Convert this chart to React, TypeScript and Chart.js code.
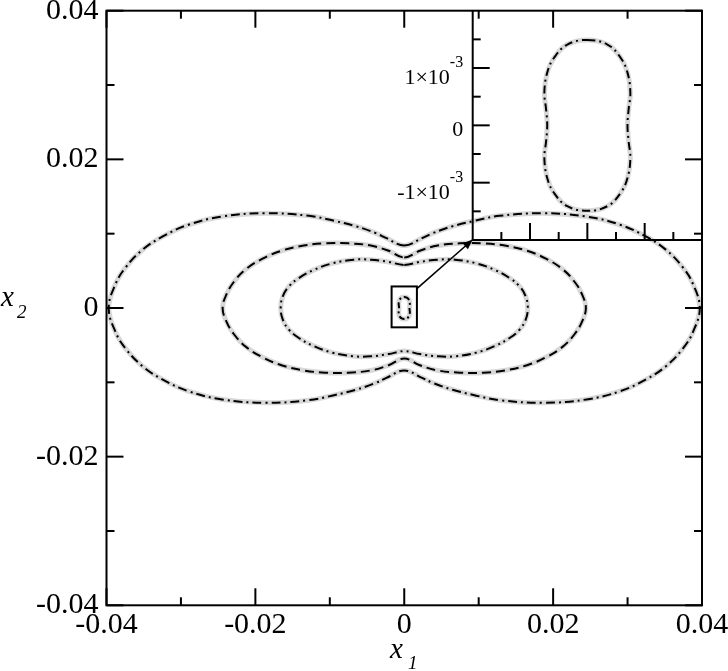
import React, { useEffect, useRef } from 'react';
import { Chart, registerables } from 'chart.js';
Chart.register(...registerables);

// ---- data (first quadrant of each symmetric closed curve) ----
const outerX = [0, 0.0024, 0.0039, 0.0065, 0.0093, 0.0128, 0.0187, 0.0245, 0.029, 0.0325, 0.0352, 0.0374, 0.0388, 0.0397];
const outerY = [0.0084, 0.0094, 0.0101, 0.011, 0.0117, 0.0124, 0.01275, 0.0123, 0.0112, 0.0096, 0.0078, 0.0055, 0.0032, 0];
const middleX = [0, 0.0021, 0.0045, 0.0075, 0.0106, 0.0135, 0.0165, 0.0191, 0.0213, 0.0229, 0.0239, 0.0244];
const middleY = [0.0068, 0.0077, 0.0084, 0.0087, 0.0087, 0.0084, 0.0077, 0.0066, 0.0052, 0.0035, 0.0018, 0];
const innerX = [0, 0.0021, 0.0045, 0.0068, 0.0097, 0.0122, 0.0142, 0.0155, 0.0163, 0.0166];
const innerY = [0.0058, 0.0062, 0.0065, 0.0065, 0.006, 0.0051, 0.004, 0.0029, 0.0016, 0];
const peanutX = [0, 0.00035, 0.00058, 0.0007, 0.00075, 0.00072, 0.0007];
const peanutY = [0.00149, 0.00141, 0.00118, 0.00092, 0.00057, 0.00028, 0];

// ---- ticks ----
const mainTickValues = [-0.04, -0.02, 0, 0.02, 0.04];
const mainTickLabels = ['-0.04', '-0.02', '0', '0.02', '0.04'];
const mainMinorTicks = [-0.03, -0.01, 0.01, 0.03];
const insetMajorTicks = [-0.001, 0, 0.001];
const insetMinorTicks = [-0.0015, -0.0005, 0.0005, 0.0015];
const insetYTickLabels = ['-1\u00d710', '0', '1\u00d710'];
const insetYTickExps = ['-3', '', '-3'];

// ---- annotations ----
const zoomBox = [-0.0017, -0.0026, 0.0017, 0.0029];
const arrowFrom = [0.0017, 0.0026];
const arrowTo = [0.0092, 0.0092];

const GRAY = '#d8d8d8';
const FONT = "'Liberation Serif', 'Times New Roman', serif";

function loopPoints(qx: number[], qy: number[]) {
  const pts: { x: number; y: number }[] = [];
  const n = qx.length;
  for (let i = 0; i < n; i++) pts.push({ x: qx[i], y: qy[i] });
  for (let i = n - 2; i >= 0; i--) pts.push({ x: qx[i], y: -qy[i] });
  for (let i = 1; i < n; i++) pts.push({ x: -qx[i], y: -qy[i] });
  for (let i = n - 2; i >= 1; i--) pts.push({ x: -qx[i], y: qy[i] });
  return pts;
}

const closeLoops = {
  id: 'closeLoops',
  afterDatasetUpdate(chart: any, args: any) {
    const el = args.meta.dataset;
    if (el) {
      el._loop = true;
      el._fullLoop = true;
    }
  },
};

function curveSets(pts: any[], dash: number[]) {
  return [
    { data: pts, borderColor: GRAY, borderWidth: 5, order: 2 },
    { data: pts, borderColor: '#000', borderWidth: 2, borderDash: dash, order: 1 },
  ];
}

const lineDefaults = {
  showLine: true,
  pointRadius: 0,
  tension: 0.4,
  spanGaps: true,
  borderJoinStyle: 'round',
  borderCapStyle: 'butt',
  fill: false,
};

function tick(ctx: CanvasRenderingContext2D, x1: number, y1: number, x2: number, y2: number) {
  ctx.beginPath();
  ctx.moveTo(x1, y1);
  ctx.lineTo(x2, y2);
  ctx.stroke();
}

const mainDecor = {
  id: 'mainDecor',
  afterDraw(chart: any) {
    const { ctx, chartArea: a, scales } = chart;
    const xs = scales.x;
    const ys = scales.y;
    ctx.save();
    ctx.strokeStyle = '#000';
    ctx.lineWidth = 2;
    ctx.lineCap = 'butt';
    const all = [
      ...mainTickValues.map((v) => [v, 17]),
      ...mainMinorTicks.map((v) => [v, 8]),
    ];
    for (const [v, len] of all) {
      const px = xs.getPixelForValue(v);
      tick(ctx, px, a.bottom, px, a.bottom - len);
      tick(ctx, px, a.top, px, a.top + len);
      const py = ys.getPixelForValue(v);
      tick(ctx, a.left, py, a.left + len, py);
      tick(ctx, a.right, py, a.right - len, py);
    }
    ctx.strokeRect(a.left, a.top, a.right - a.left, a.bottom - a.top);

    // zoom box
    const bx1 = xs.getPixelForValue(zoomBox[0]);
    const by1 = ys.getPixelForValue(zoomBox[3]);
    const bx2 = xs.getPixelForValue(zoomBox[2]);
    const by2 = ys.getPixelForValue(zoomBox[1]);
    ctx.lineWidth = 2;
    ctx.strokeRect(bx1, by1, bx2 - bx1, by2 - by1);

    // arrow
    const sx = xs.getPixelForValue(arrowFrom[0]);
    const sy = ys.getPixelForValue(arrowFrom[1]);
    const ex = xs.getPixelForValue(arrowTo[0]);
    const ey = ys.getPixelForValue(arrowTo[1]);
    const ang = Math.atan2(ey - sy, ex - sx);
    const hl = 10;
    const hw = 4;
    ctx.lineWidth = 1.6;
    tick(ctx, sx, sy, ex - Math.cos(ang) * hl * 0.7, ey - Math.sin(ang) * hl * 0.7);
    ctx.fillStyle = '#000';
    ctx.beginPath();
    ctx.moveTo(ex, ey);
    ctx.lineTo(ex - Math.cos(ang) * hl - Math.sin(ang) * hw, ey - Math.sin(ang) * hl + Math.cos(ang) * hw);
    ctx.lineTo(ex - Math.cos(ang) * hl + Math.sin(ang) * hw, ey - Math.sin(ang) * hl - Math.cos(ang) * hw);
    ctx.closePath();
    ctx.fill();
    ctx.restore();
  },
};

const insetDecor = {
  id: 'insetDecor',
  afterDraw(chart: any) {
    const { ctx, chartArea: a, scales } = chart;
    const xs = scales.x;
    const ys = scales.y;
    ctx.save();
    ctx.strokeStyle = '#000';
    ctx.lineWidth = 2;
    ctx.lineCap = 'butt';
    const all = [
      ...insetMajorTicks.map((v) => [v, 17]),
      ...insetMinorTicks.map((v) => [v, 8]),
    ];
    for (const [v, len] of all) {
      const px = xs.getPixelForValue(v);
      tick(ctx, px, a.bottom, px, a.bottom - len);
      const py = ys.getPixelForValue(v);
      tick(ctx, a.left, py, a.left + len, py);
    }
    tick(ctx, a.left, a.top, a.left, a.bottom + 1);
    tick(ctx, a.left - 1, a.bottom, a.right, a.bottom);

    // y tick labels with superscript exponents
    ctx.fillStyle = '#000';
    ctx.textBaseline = 'alphabetic';
    const rightEdge = a.left - 9.5;
    insetMajorTicks.forEach((v, i) => {
      const py = ys.getPixelForValue(v);
      const base = insetYTickLabels[i];
      const exp = insetYTickExps[i];
      if (exp) {
        ctx.font = `16px ${FONT}`;
        const ew = ctx.measureText(exp).width;
        ctx.textAlign = 'left';
        ctx.fillText(exp, rightEdge - ew, py - 1);
        ctx.font = `22px ${FONT}`;
        ctx.textAlign = 'right';
        ctx.fillText(base, rightEdge - ew, py + 16);
      } else {
        ctx.font = `22px ${FONT}`;
        ctx.textAlign = 'right';
        ctx.fillText(base, rightEdge, py + 10.7);
      }
    });
    ctx.restore();
  },
};

export default function App() {
  const mainRef = useRef<HTMLCanvasElement>(null);
  const insetRef = useRef<HTMLCanvasElement>(null);

  useEffect(() => {
    const outer = loopPoints(outerX, outerY);
    const middle = loopPoints(middleX, middleY);
    const inner = loopPoints(innerX, innerY);
    const peanut = loopPoints(peanutX, peanutY);

    const tickFont = { family: FONT, size: 30 };

    const main = new Chart(mainRef.current!, {
      type: 'scatter',
      data: {
        datasets: [
          ...curveSets(outer, [9, 4, 2, 4]),
          ...curveSets(middle, [9, 5]),
          ...curveSets(inner, [9, 4, 2, 4, 2, 4]),
          ...curveSets(peanut, [6, 3, 2, 3]),
        ].map((d) => ({ ...lineDefaults, ...d })) as any,
      },
      options: {
        animation: false,
        responsive: false,
        maintainAspectRatio: false,
        layout: { padding: { left: 0, top: 10.7, right: 26, bottom: 0 } },
        plugins: { legend: { display: false }, tooltip: { enabled: false } },
        scales: {
          x: {
            type: 'linear',
            min: -0.04,
            max: 0.04,
            grid: { display: false, drawTicks: false },
            border: { display: false },
            afterBuildTicks: (s: any) => {
              s.ticks = mainTickValues.map((v) => ({ value: v }));
            },
            afterFit: (s: any) => {
              s.height = 65.7;
              s.paddingLeft = 0;
              s.paddingRight = 0;
            },
            ticks: {
              callback: (_v: any, i: number) => mainTickLabels[i],
              font: tickFont,
              color: '#000',
              padding: 2,
              maxRotation: 0,
              autoSkip: false,
            },
          },
          y: {
            type: 'linear',
            min: -0.04,
            max: 0.04,
            grid: { display: false, drawTicks: false },
            border: { display: false },
            afterBuildTicks: (s: any) => {
              s.ticks = mainTickValues.map((v) => ({ value: v }));
            },
            afterFit: (s: any) => {
              s.width = 106.5;
              s.paddingTop = 0;
              s.paddingBottom = 0;
            },
            ticks: {
              callback: (_v: any, i: number) => mainTickLabels[i],
              font: tickFont,
              color: '#000',
              padding: 8,
              autoSkip: false,
            },
          },
        },
      } as any,
      plugins: [closeLoops, mainDecor],
    });

    const inset = new Chart(insetRef.current!, {
      type: 'scatter',
      data: {
        datasets: curveSets(peanut, [8, 4, 2, 4]).map((d) => ({ ...lineDefaults, ...d })) as any,
      },
      options: {
        animation: false,
        responsive: false,
        maintainAspectRatio: false,
        layout: { padding: { left: 92.7, top: 10.7, right: 26, bottom: 20 } },
        plugins: { legend: { display: false }, tooltip: { enabled: false } },
        scales: {
          x: { type: 'linear', min: -0.002, max: 0.002, display: false },
          y: { type: 'linear', min: -0.002, max: 0.002, display: false },
        },
      } as any,
      plugins: [closeLoops, insetDecor],
    });

    return () => {
      main.destroy();
      inset.destroy();
    };
  }, []);

  const italic = { position: 'absolute' as const, fontFamily: FONT, fontStyle: 'italic', whiteSpace: 'nowrap' as const, color: '#000' };

  return (
    <div style={{ position: 'fixed', left: 0, top: 0, width: 728, height: 671, background: '#fff', overflow: 'hidden' }}>
      <canvas ref={mainRef} width={728} height={671} style={{ position: 'absolute', left: 0, top: 0 }} />
      <canvas ref={insetRef} width={348} height={260} style={{ position: 'absolute', left: 380, top: 0 }} />
      <div style={{ ...italic, left: 390, top: 633.7, fontSize: 29, lineHeight: '29px' }}>x</div>
      <div style={{ ...italic, left: 408, top: 653, fontSize: 19, lineHeight: '19px' }}>1</div>
      <div style={{ ...italic, left: 1, top: 281.7, fontSize: 29, lineHeight: '29px' }}>x</div>
      <div style={{ ...italic, left: 17, top: 302, fontSize: 19, lineHeight: '19px' }}>2</div>
    </div>
  );
}
